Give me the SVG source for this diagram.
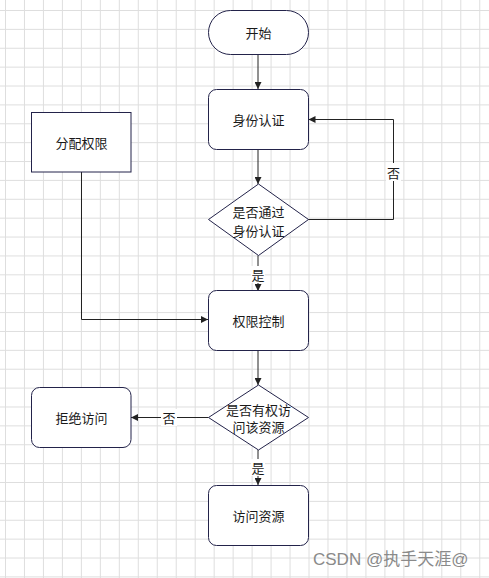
<svg xmlns="http://www.w3.org/2000/svg" width="489" height="578" viewBox="0 0 489 578">
<style>
.node{fill:#fff;stroke:#23234a;stroke-width:1}
.t{font-family:"Noto Sans CJK SC","Liberation Sans",sans-serif;font-size:13px;fill:#1a1a1a;text-anchor:middle;dominant-baseline:central}
.edge{fill:none;stroke:#222;stroke-width:1}
.lbg{fill:#fff}
</style>
<defs>
<pattern id="grid" patternUnits="userSpaceOnUse" x="5" y="10" width="18.97" height="18.88">
<path d="M0.5 0V18.88M0 0.5H18.97" fill="none" stroke="#dedede" stroke-width="1"/>
</pattern>
<marker id="arr" viewBox="0 0 10 10" refX="10" refY="5" markerWidth="7" markerHeight="7" orient="auto" markerUnits="userSpaceOnUse">
<path d="M0 0L10 5L0 10z" fill="#222"/>
</marker>
</defs>
<rect width="489" height="578" fill="#fff"/>
<rect width="489" height="578" fill="url(#grid)"/>
<g id="connectors">
<path class="edge" d="M258 54V89" marker-end="url(#arr)"/>
<path class="edge" d="M258 149V184" marker-end="url(#arr)"/>
<path class="edge" d="M308 219.5H393.5V119.5H308.5" marker-end="url(#arr)"/>
<rect class="lbg" x="386" y="163" width="15" height="18"/>
<text class="t" x="393.5" y="172">否</text>
<path class="edge" d="M258 255.5V291" marker-end="url(#arr)"/>
<rect class="lbg" x="251" y="266" width="14" height="17"/>
<text class="t" x="258" y="274.5">是</text>
<path class="edge" d="M81.5 172V319.5H208" marker-end="url(#arr)"/>
<path class="edge" d="M258 350.5V385" marker-end="url(#arr)"/>
<path class="edge" d="M208.5 417.5H131" marker-end="url(#arr)"/>
<rect class="lbg" x="161" y="409" width="16" height="17"/>
<text class="t" x="169" y="417.5">否</text>
<path class="edge" d="M258 450V485" marker-end="url(#arr)"/>
<rect class="lbg" x="251" y="459" width="14" height="17"/>
<text class="t" x="258" y="467.5">是</text>
</g>
<g id="start">
<rect class="node" x="208.5" y="10.5" width="100" height="44" rx="22"/>
<text class="t" x="258.5" y="32.5">开始</text>
</g>
<g id="auth">
<rect class="node" x="208.5" y="89.5" width="100" height="60" rx="8"/>
<text class="t" x="258.5" y="119.5">身份认证</text>
</g>
<g id="auth-check">
<path class="node" d="M258.5 184L308.5 219.5L258.5 255.5L208.5 219.5Z"/>
<text class="t" x="258.5" y="211">是否通过</text>
<text class="t" x="258.5" y="230">身份认证</text>
</g>
<g id="assign">
<rect class="node" x="31.5" y="112.5" width="99.5" height="59.5"/>
<text class="t" x="81.5" y="142.5">分配权限</text>
</g>
<g id="control">
<rect class="node" x="208.5" y="290.5" width="100" height="60" rx="8"/>
<text class="t" x="258.5" y="320.5">权限控制</text>
</g>
<g id="perm-check">
<path class="node" d="M258.5 385L308.5 417.5L258.5 450L208.5 417.5Z"/>
<text class="t" x="258.5" y="409">是否有权访</text>
<text class="t" x="258.5" y="426.5">问该资源</text>
</g>
<g id="deny">
<rect class="node" x="31.5" y="387.5" width="99.5" height="60" rx="8"/>
<text class="t" x="81.5" y="417.5">拒绝访问</text>
</g>
<g id="access">
<rect class="node" x="208.5" y="485.5" width="100" height="60" rx="8"/>
<text class="t" x="258.5" y="515.5">访问资源</text>
</g>
<text x="313" y="565" font-family="'Liberation Sans','Noto Sans CJK SC',sans-serif" font-size="17" fill="#8a8a8a">CSDN @执手天涯@</text>
</svg>
